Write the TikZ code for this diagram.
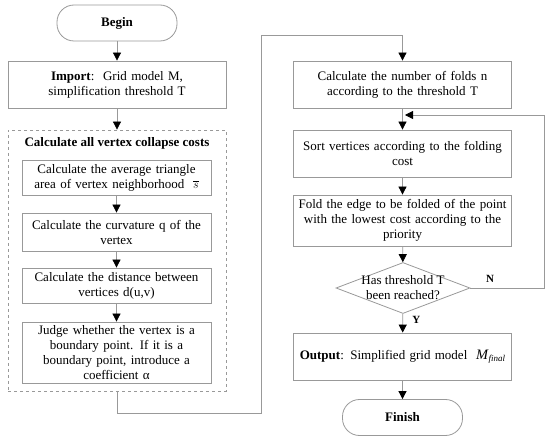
\documentclass[tikz,border=0pt]{standalone}
\usepackage{fontspec}
\setmainfont{Liberation Serif}
\usetikzlibrary{arrows.meta,shapes.geometric}
\newcommand{\flowfont}{\fontsize{13}{15}\selectfont}
\tikzset{
  flow/.style={draw=gray!80, line width=0.8pt, -{Triangle[length=8pt,width=8pt,color=black]}},
  terminal/.style={draw=gray!80, line width=0.8pt, rounded corners=17pt, minimum width=120pt, minimum height=36pt, font=\flowfont\bfseries},
  process/.style={draw=gray!80, line width=0.8pt, minimum width=218pt, text width=214pt, inner xsep=2pt, align=center},
  subbox/.style={draw=gray!80, line width=0.8pt, minimum width=189pt, text width=185pt, inner xsep=2pt, align=center},
  decision/.style={draw=gray!80, line width=0.8pt, diamond, aspect=2.6, inner sep=-14pt, minimum width=134pt, minimum height=51pt, align=center}
}

\begin{document}
\begin{tikzpicture}[x=1pt,y=-1pt,font=\flowfont]
    \useasboundingbox (0,0) rectangle (550,441);

    % left column
    \node[terminal] (begin) at (117,23) {Begin};
    \node[process, minimum height=47pt] (import) at (117,84.5) {\textbf{Import}:\ \ Grid model M,\\ simplification threshold T};
    \node[draw=gray!80, dashed, line width=0.8pt, minimum width=218pt, minimum height=261pt] (costs) at (117,260.5) {};
    \node[font=\flowfont\bfseries] (title) at (117,143) {Calculate all vertex collapse costs};
    \node[subbox, minimum height=35pt] (area) at (116.5,177.5) {Calculate the average triangle\\ area of vertex neighborhood \ $\overline{s}$};
    \node[subbox, minimum height=38pt] (curv) at (116.5,232) {Calculate the curvature q of the\\ vertex};
    \node[subbox, minimum height=35pt] (dist) at (116.5,285.5) {Calculate the distance between\\ vertices d(u,v)};
    \node[subbox, minimum height=61pt] (bound) at (116.5,352.5) {Judge whether the vertex is a\\ boundary point. If it is a\\ boundary point, introduce a\\ coefficient α};

    % right column
    \node[process, minimum height=47pt] (folds) at (402.5,84.5) {Calculate the number of folds n\\ according to the threshold T};
    \node[process, minimum height=47pt] (sort) at (402.5,153.5) {Sort vertices according to the folding\\ cost};
    \node[process, minimum height=51pt] (fold) at (402.5,220.5) {Fold the edge to be folded of the point\\ with the lowest cost according to the\\ priority};
    \node[decision] (check) at (403,288) {Has threshold T\\ been reached?};
    \node[process, minimum height=47pt] (output) at (402.5,356.5) {\textbf{Output}: Simplified grid model \ \textit{\Large M}\raisebox{-2pt}{\textit{\small final}}};
    \node[terminal] (finish) at (402.5,417.5) {Finish};

    \coordinate (loopin) at (405,115);
    \coordinate (loopout) at (544,115);

    % connectors
    \draw[flow] (begin) -- (import);
    \draw[flow] (import) -- (costs);
    \draw[flow] (area) -- (curv);
    \draw[flow] (curv) -- (dist);
    \draw[flow] (dist) -- (bound);
    \draw[flow] (costs.south) -- ++(0,22) -| (261,35) -| (folds.north);
    \draw[flow] (folds) -- (sort);
    \draw[flow] (sort) -- (fold);
    \draw[flow] (fold) -- (check);
    \draw[flow] (check) -- node[right=6pt, pos=0.35, font=\fontsize{11}{11}\selectfont\bfseries] {Y} (output);
    \draw[flow] (output) -- (finish);
    \draw[flow] (check.east) -| (loopout) -- (loopin);
    \node[font=\fontsize{11}{11}\selectfont\bfseries] (nlabel) at (490,279) {N};
\end{tikzpicture}
\end{document}
